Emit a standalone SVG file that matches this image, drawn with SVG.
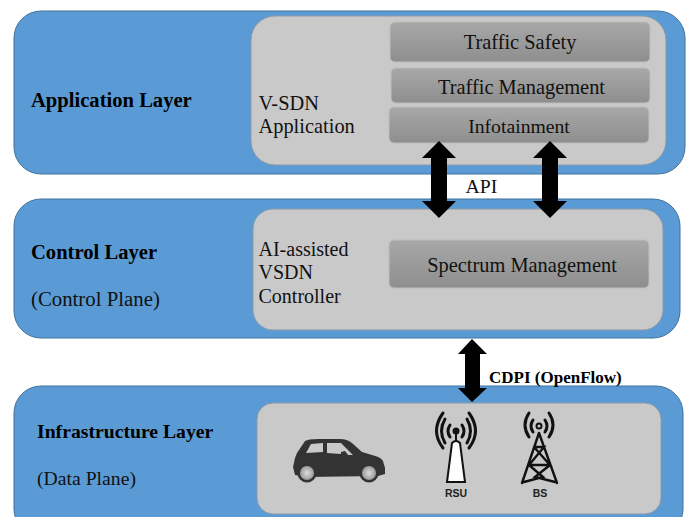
<svg xmlns="http://www.w3.org/2000/svg" width="689" height="517" viewBox="0 0 689 517">
<style>
text{font-family:"Liberation Serif","Times New Roman",serif;fill:#111;font-size:20.4px}
.b{font-weight:bold;fill:#000}
.n{font-size:19.7px}
.w{font-size:20px}
.s{font-family:"Liberation Sans",Arial,sans-serif;font-weight:bold;font-size:10.5px;fill:#222}
.layer{fill:#5b9bd5;stroke:#41719c;stroke-width:1}
.panel{fill:#c9c9c9;stroke:#8c9aa8;stroke-width:1}
.box{fill:url(#g);stroke:#bdbdbd;stroke-width:1}
.arr{fill:#000}
.dark{fill:#333}
.ic{fill:none;stroke:#111;stroke-linecap:round}
</style>
<defs>
<linearGradient id="g" x1="0" y1="0" x2="0" y2="1"><stop offset="0" stop-color="#a8a8a8"/><stop offset="1" stop-color="#8e8e8e"/></linearGradient>
<radialGradient id="w"><stop offset="0" stop-color="#ddd"/><stop offset="1" stop-color="#999"/></radialGradient>
</defs>
<rect width="689" height="517" fill="#fff"/>
<g id="application-layer">
<rect class="layer" x="14" y="11" width="671" height="163" rx="27"/>
<rect class="panel" x="251" y="16" width="415" height="149" rx="24"/>
<text class="b" x="31" y="107" style="font-size:20.6px">Application Layer</text>
<text x="258.500" y="110">V-SDN</text>
<text x="258.500" y="133">Application</text>
</g>
<g id="traffic-safety"><rect class="box" x="390" y="22" width="260" height="40" rx="5"/><text x="520" y="49" text-anchor="middle">Traffic Safety</text></g>
<g id="traffic-management"><rect class="box" x="391" y="68" width="259" height="35" rx="5"/><text x="521.500" y="94" text-anchor="middle">Traffic Management</text></g>
<g id="infotainment"><rect class="box" x="389" y="107" width="260" height="36" rx="5"/><text class="n" x="519" y="133" text-anchor="middle">Infotainment</text></g>
<g id="control-layer">
<rect class="layer" x="14" y="199" width="666" height="139" rx="27"/>
<rect class="panel" x="253" y="209" width="410" height="121" rx="20"/>
<text class="b" x="31" y="259" style="font-size:20.6px">Control Layer</text>
<text x="31" y="306" style="font-size:20.8px">(Control Plane)</text>
<text class="w" x="258.500" y="256">AI-assisted</text>
<text class="w" x="258.500" y="279">VSDN</text>
<text class="w" x="258.500" y="303">Controller</text>
</g>
<g id="spectrum-management"><rect class="box" x="389" y="240" width="260" height="48" rx="5"/><text x="522" y="272" text-anchor="middle">Spectrum Management</text></g>
<g id="infrastructure-layer">
<rect class="layer" x="14" y="386" width="669" height="150" rx="27"/>
<rect class="panel" x="257" y="403" width="404" height="111" rx="16"/>
<text class="b n" x="37" y="438">Infrastructure Layer</text>
<text class="n" x="37" y="485">(Data Plane)</text>
</g>
<g id="car">
<path class="dark" d="M293 467 L295 458 L297 453 L305 441 Q308 439 318 439 L340 439 Q347 439 352 443 L362 452 L372 455 Q381 457 383 461 L385 468 L385 474 L378 476 L306 477 L295 475 Z"/>
<path d="M306 453 L311 444 L323 443 L323 452 Z M327 443 L341 443 L353 455 L348 455 L345 451 L341 452 L341 454 L327 453 Z" fill="#c9c9c9"/>
<circle cx="307" cy="473" r="9.500" class="dark"/><circle cx="307" cy="473" r="7" fill="url(#w)"/>
<circle cx="369" cy="473" r="9.500" class="dark"/><circle cx="369" cy="473" r="7" fill="url(#w)"/>
</g>
<g id="rsu">
<path d="M452 443 L447 482 L465 482 L460 443 Q456 439 452 443 Z" fill="#fff" stroke="#111" stroke-width="2"/>
<circle cx="456" cy="431" r="3.500" fill="#111"/>
<path class="ic" d="M456 431 L456 441" stroke-width="2"/>
<g class="ic" stroke-width="3">
<path d="M450 437 Q446 431 450 425 M462 437 Q466 431 462 425"/>
<path d="M445 443 Q438 431 445 419 M467 443 Q474 431 467 419"/>
<path d="M443 448 Q430 431 443 413 M469 448 Q482 431 469 413"/>
</g>
<text class="s" x="456" y="497" text-anchor="middle">RSU</text>
</g>
<g id="bs">
<circle cx="539" cy="426" r="2.500" fill="none" stroke="#111" stroke-width="2"/>
<g class="ic" stroke-width="3">
<path d="M533 432 Q529 426 533 420 M545 432 Q549 426 545 420"/>
<path d="M529 437 Q521 425 529 413 M549 437 Q557 425 549 413"/>
</g>
<path class="ic" stroke-width="2.400" d="M539 433 L522 483 M539 433 L557 483 M534 447 L544 447 L529 465 L550 465 L534 447 M529 465 L543 477 L524 482 M550 465 L535 477 L555 482"/>
<text class="s" x="540" y="497" text-anchor="middle">BS</text>
</g>
<g id="connectors">
<path id="api-1" class="arr" d="M439 141 L456 158 L447 158 L447 201 L456 201 L439 218 L422 201 L431 201 L431 158 L422 158 Z"/>
<path id="api-2" class="arr" d="M550 141 L567 158 L558 158 L558 201 L567 201 L550 218 L533 201 L542 201 L542 158 L533 158 Z"/>
<path id="cdpi" class="arr" d="M472 339 L487 354 L480 354 L480 388 L487 388 L472 402 L458 388 L465 388 L465 354 L458 354 Z"/>
</g>
<text class="n" x="465.500" y="193">API</text>
<text class="b" x="489" y="383" style="font-size:17px">CDPI (OpenFlow)</text>
</svg>
